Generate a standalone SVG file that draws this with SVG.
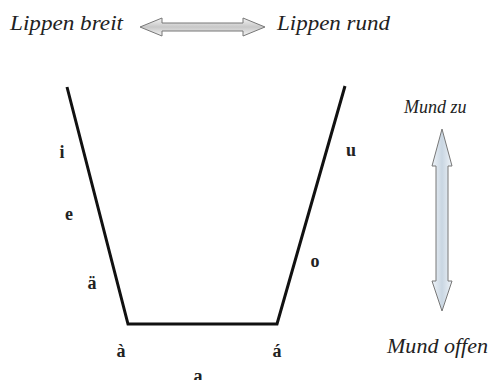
<svg xmlns="http://www.w3.org/2000/svg" width="492" height="380" viewBox="0 0 492 380">
<defs>
<linearGradient id="gh" x1="0" y1="0" x2="0" y2="1"><stop offset="0" stop-color="#f4f4f4"/><stop offset="0.5" stop-color="#c8c8c8"/><stop offset="1" stop-color="#f4f4f4"/></linearGradient>
<linearGradient id="gv" x1="0" y1="0" x2="1" y2="0"><stop offset="0" stop-color="#eef3f8"/><stop offset="0.5" stop-color="#c9d6e2"/><stop offset="1" stop-color="#eef3f8"/></linearGradient>
<style>
.lbl{font-family:"Liberation Serif","Times New Roman","DejaVu Serif",serif;font-style:italic;font-size:20px;fill:#222}
.v{font-family:"Liberation Serif","Times New Roman","DejaVu Serif",serif;font-weight:bold;font-size:18px;fill:#222;text-anchor:middle}
.arr{stroke:#777;stroke-width:1}
.edge{stroke:#111;stroke-width:3;fill:none;stroke-linejoin:miter}
</style>
</defs>
<rect width="492" height="380" fill="#fff"/>
<g id="connectors">
<polyline class="edge" points="67,87 128,324 277,324 345,86"/>
</g>
<g id="top-axis">
<text class="lbl" x="10" y="30" textLength="113" lengthAdjust="spacingAndGlyphs">Lippen breit</text>
<polygon class="arr" fill="url(#gh)" points="140,27 162,18 162,23 243,23 243,18 265,27 243,36 243,31 162,31 162,36"/>
<text class="lbl" x="277" y="30" textLength="113" lengthAdjust="spacingAndGlyphs">Lippen rund</text>
</g>
<g id="right-axis">
<text class="lbl" x="404" y="113" style="font-size:18px">Mund zu</text>
<polygon class="arr" fill="url(#gv)" points="442,129 452,166 448,166 448,281 452,281 442,311 432,281 436,281 436,166 432,166"/>
<text class="lbl" x="387" y="353" textLength="101" lengthAdjust="spacingAndGlyphs">Mund offen</text>
</g>
<g id="vowels">
<text class="v" x="62" y="158">i</text>
<text class="v" x="69" y="220">e</text>
<text class="v" x="92" y="289">ä</text>
<text class="v" x="121" y="357">à</text>
<text class="v" x="277" y="357">á</text>
<text class="v" x="198" y="382">a</text>
<text class="v" x="351" y="156">u</text>
<text class="v" x="315" y="267">o</text>
</g>
</svg>
